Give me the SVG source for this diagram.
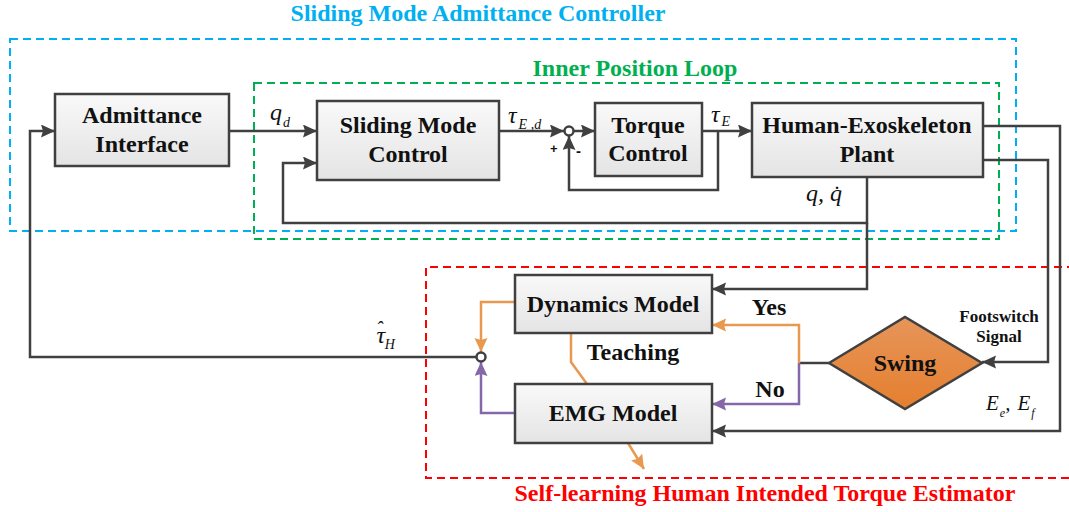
<svg xmlns="http://www.w3.org/2000/svg" width="1069" height="512" viewBox="0 0 1069 512">
  <style>
    .blk { fill: url(#boxFill); stroke: #404040; stroke-width: 2.5; }
    .lbl { font-family: "Liberation Serif", "Times New Roman", serif; font-weight: bold; font-size: 24px; fill: #111; text-anchor: middle; }
    .small { font-size: 17px; }
    .math { font-family: "Liberation Serif", "Times New Roman", serif; font-style: italic; fill: #111; }
    .wire { fill: none; stroke: #404040; stroke-width: 2.5; }
    .wire-or { fill: none; stroke: #E8994F; stroke-width: 2.5; }
    .wire-pu { fill: none; stroke: #8468A8; stroke-width: 2.5; }
    .frame { fill: none; stroke-width: 2; stroke-dasharray: 8 5; }
    .title { font-family: "Liberation Serif", "Times New Roman", serif; font-weight: bold; font-size: 24px; text-anchor: middle; }
  </style>
  <defs>
    <linearGradient id="boxFill" x1="0" y1="0" x2="0" y2="1">
      <stop offset="0" stop-color="#F9F9F9"/>
      <stop offset="1" stop-color="#E4E4E4"/>
    </linearGradient>
    <linearGradient id="swingFill" x1="0" y1="0" x2="0" y2="1">
      <stop offset="0" stop-color="#E6955A"/>
      <stop offset="1" stop-color="#E57F2E"/>
    </linearGradient>
    <marker id="ah" markerUnits="userSpaceOnUse" markerWidth="16" markerHeight="14" refX="14" refY="6.5" orient="auto">
      <path d="M0,0 L14,6.5 L0,13 L2,6.5 Z" fill="#404040"/>
    </marker>
    <marker id="ahOr" markerUnits="userSpaceOnUse" markerWidth="16" markerHeight="14" refX="14" refY="6.5" orient="auto">
      <path d="M0,0 L14,6.5 L0,13 L2,6.5 Z" fill="#E8994F"/>
    </marker>
    <marker id="ahPu" markerUnits="userSpaceOnUse" markerWidth="16" markerHeight="14" refX="14" refY="6.5" orient="auto">
      <path d="M0,0 L14,6.5 L0,13 L2,6.5 Z" fill="#8468A8"/>
    </marker>
  </defs>

  <rect width="1069" height="512" fill="#FFFFFF"/>

  <!-- grouping frames -->
  <g id="frames">
    <rect class="frame" x="10" y="39" width="1006" height="192" stroke="#00B0F0"/>
    <rect class="frame" x="254" y="83" width="745" height="156" stroke="#00B050"/>
    <path class="frame" d="M1075,267 H426 V478 H1075" stroke="#FF0000"/>
    <text class="title" x="478" y="21" fill="#00B0F0">Sliding Mode Admittance Controller</text>
    <text class="title" x="635" y="76" fill="#00B050">Inner Position Loop</text>
    <text class="title" x="765" y="501" fill="#FF0000">Self-learning Human Intended Torque Estimator</text>
  </g>

  <!-- connectors -->
  <g id="connectors">
    <!-- q_d -->
    <path class="wire" d="M229,131 H317" marker-end="url(#ah)"/>
    <!-- tau_E,d to summing point -->
    <path class="wire" d="M499,131 H564" marker-end="url(#ah)"/>
    <!-- summing point to torque control -->
    <path class="wire" d="M573,131 H595" marker-end="url(#ah)"/>
    <!-- tau_E to plant -->
    <path class="wire" d="M702,131 H752" marker-end="url(#ah)"/>
    <!-- torque feedback -->
    <path class="wire" d="M718,131 V190 H569 V136" marker-end="url(#ah)"/>
    <!-- position feedback -->
    <path class="wire" d="M867,177 V223 H283 V163 H317" marker-end="url(#ah)"/>
    <!-- q, qdot to dynamics model -->
    <path class="wire" d="M867,223 V289 H712" marker-end="url(#ah)"/>
    <!-- EMG signals -->
    <path class="wire" d="M983,126 H1060 V431 H712" marker-end="url(#ah)"/>
    <!-- footswitch signal -->
    <path class="wire" d="M983,160 H1048 V362 H982" marker-end="url(#ah)"/>
    <!-- swing decision -->
    <path class="wire" d="M829,363 H799"/>
    <path class="wire-or" d="M799,363 V325 H712" marker-end="url(#ahOr)"/>
    <path class="wire-pu" d="M799,363 V404 H712" marker-end="url(#ahPu)"/>
    <!-- model outputs to the estimate node -->
    <path class="wire-or" d="M515,302 H481 V352" marker-end="url(#ahOr)"/>
    <path class="wire-pu" d="M515,413 H481 V362" marker-end="url(#ahPu)"/>
    <!-- teaching link -->
    <path class="wire-or" d="M571,333 V362 L587,384"/>
    <path class="wire-or" d="M628,443 L644,469" marker-end="url(#ahOr)"/>
    <!-- estimated human torque back to admittance interface -->
    <path class="wire" d="M477,357 H30 V131 H55" marker-end="url(#ah)"/>
    <!-- junction circles -->
    <circle cx="569" cy="131" r="4.5" fill="#FFFFFF" stroke="#404040" stroke-width="2.5"/>
    <circle cx="481" cy="357" r="4.5" fill="#FFFFFF" stroke="#404040" stroke-width="2.5"/>
    <text x="550" y="153" font-family="Liberation Sans, Arial, sans-serif" font-weight="bold" font-size="13" fill="#111">+</text>
    <text x="576" y="156" font-family="Liberation Sans, Arial, sans-serif" font-weight="bold" font-size="15" fill="#111">-</text>
  </g>

  <!-- signal labels -->
  <g id="labels">
    <text class="math" x="270" y="120" font-size="24">q<tspan dx="1" dy="7" font-size="14">d</tspan></text>
    <text class="math" x="508" y="123" font-size="24">τ<tspan dx="2" dy="6" font-size="14">E ,d</tspan></text>
    <text class="math" x="711" y="122" font-size="24">τ<tspan dx="2" dy="4" font-size="14">E</tspan></text>
    <text class="math" x="806" y="201" font-size="24">q, q̇</text>
    <!-- hat accent placed over tau with a kerned tspan -->
    <text class="math" x="376" y="343" font-size="24">τ<tspan dx="-9" dy="-7" font-size="20">ˆ</tspan><tspan dx="2" dy="13" font-size="14">H</tspan></text>
    <text class="math" x="986" y="410" font-size="21">E<tspan dx="1" dy="7" font-size="12">e</tspan><tspan dy="-7">,</tspan><tspan dx="7">E</tspan><tspan dx="1" dy="7" font-size="12">f</tspan></text>
    <text class="lbl" x="633" y="360">Teaching</text>
    <text class="lbl" x="769" y="315">Yes</text>
    <text class="lbl" x="770" y="397">No</text>
    <text class="lbl small" x="999" y="322">Footswitch</text>
    <text class="lbl small" x="999" y="342">Signal</text>
  </g>

  <g id="admittance-interface">
    <rect class="blk" x="55" y="94" width="174" height="72"/>
    <text class="lbl" x="142" y="123">Admittance</text>
    <text class="lbl" x="142" y="152">Interface</text>
  </g>

  <g id="sliding-mode-control">
    <rect class="blk" x="317" y="101" width="182" height="79"/>
    <text class="lbl" x="408" y="133">Sliding Mode</text>
    <text class="lbl" x="408" y="162">Control</text>
  </g>

  <g id="torque-control">
    <rect class="blk" x="595" y="103" width="107" height="73"/>
    <text class="lbl" x="648" y="133">Torque</text>
    <text class="lbl" x="648" y="161">Control</text>
  </g>

  <g id="plant">
    <rect class="blk" x="752" y="103" width="231" height="74"/>
    <text class="lbl" x="867" y="133">Human-Exoskeleton</text>
    <text class="lbl" x="867" y="162">Plant</text>
  </g>

  <g id="dynamics-model">
    <rect class="blk" x="515" y="275" width="197" height="58"/>
    <text class="lbl" x="613" y="312">Dynamics Model</text>
  </g>

  <g id="emg-model">
    <rect class="blk" x="515" y="384" width="197" height="59"/>
    <text class="lbl" x="613" y="421">EMG Model</text>
  </g>

  <g id="swing">
    <path d="M829,363 L905,317 L982,363 L905,409 Z" fill="url(#swingFill)" stroke="#404040" stroke-width="2.5" stroke-linejoin="miter"/>
    <text class="lbl" x="905" y="371">Swing</text>
  </g>
</svg>
